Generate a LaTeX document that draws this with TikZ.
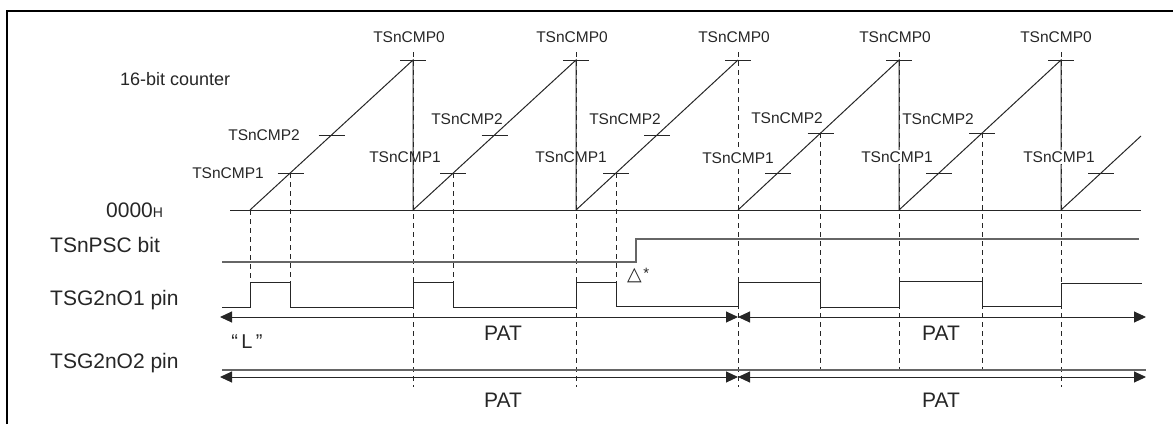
\documentclass[tikz,border=0pt]{standalone}
\usepackage{fontspec}
\setmainfont{Liberation Sans}
\newfontfamily\djv{DejaVu Sans}
\usetikzlibrary{arrows.meta}
\begin{document}
\begin{tikzpicture}[x=1pt,y=-1pt,
  sig/.style={line width=1pt, black!85},
  grey/.style={line width=1.3pt, black!60},
  dsh/.style={line width=0.9pt, black!85, dash pattern=on 5pt off 4pt},
  tck/.style={line width=1pt, black!85},
  cmp/.style={font=\fontsize{15.5}{17}\selectfont, inner sep=1pt, text=black!85},
  cmpw/.style={cmp, fill=white, inner sep=2pt},
  row/.style={font=\fontsize{21}{24}\selectfont, anchor=west, inner sep=0pt, text=black!85},
  patlbl/.style={font=\fontsize{21}{24}\selectfont, inner sep=0pt, text=black!85},
  pat/.style={line width=1pt, black!85, {Triangle[length=12pt,width=11pt]}-{Triangle[length=12pt,width=11pt]}},
]
\useasboundingbox (0,0) rectangle (1173,424);
% frame
\draw[line width=2pt] (7,424) -- (7,11) -- (1173,11);

% key coordinates
\coordinate (s0b) at (250,210);
\coordinate (s1t) at (413,60);  \coordinate (s1b) at (413,210);
\coordinate (s2t) at (576,60);  \coordinate (s2b) at (576,210);
\coordinate (s3t) at (738,60);  \coordinate (s3b) at (738,210);
\coordinate (s4t) at (899,60);  \coordinate (s4b) at (899,210);
\coordinate (s5t) at (1061,60); \coordinate (s5b) at (1061,210);
\coordinate (rend) at (1141,136);

% baseline
\coordinate (bl0) at (230,210); \coordinate (bl1) at (1141,210);
\draw[sig] (bl0) -- (bl1);

% dashed verticals (ramp starts)
\draw[dsh] (250,210) -- (250,282);
\draw[dsh] (413,52) -- (413,387);
\draw[dsh] (576,52) -- (576,387);
\draw[dsh] (738,52) -- (738,387);
\draw[dsh] (899,52) -- (899,370);
\draw[dsh] (1061,52) -- (1061,387);
% dashed verticals from compare points
\draw[dsh] (290.5,173) -- (290.5,282);
\draw[dsh] (453,173) -- (453,282);
\draw[dsh] (616,173) -- (616,282);
\draw[dsh] (820.5,133) -- (820.5,370);
\draw[dsh] (982,133) -- (982,370);

% ramps
\draw[sig] (s0b) -- (s1t) -- (s1b) -- (s2t) -- (s2b) -- (s3t);
\draw[sig] (s3b) -- (s4t) -- (s4b) -- (s5t) -- (s5b) -- (rend);

% CMP0 ticks
\foreach \x in {413,576,738,899,1061} \draw[tck] (\x-13,60) -- (\x+13,60);
% CMP2 ticks
\foreach \x/\y in {331.5/135,494.5/135,657/135,820.5/133,982/133} \draw[tck] (\x-13,\y) -- (\x+13,\y);
% CMP1 ticks
\foreach \x in {290.5,453,616,778,939,1101} \draw[tck] (\x-13,173) -- (\x+13,173);

% CMP labels
\node[cmp] (c0a) at (409,37) {TSnCMP0};
\node[cmp] (c0b) at (572,37) {TSnCMP0};
\node[cmp] (c0c) at (734,37) {TSnCMP0};
\node[cmp] (c0d) at (895,37) {TSnCMP0};
\node[cmp] (c0e) at (1056,37) {TSnCMP0};

\node[cmp, anchor=east] (c2a) at (301,135) {TSnCMP2};
\node[cmp] (c2b) at (467,119) {TSnCMP2};
\node[cmp] (c2c) at (625,119) {TSnCMP2};
\node[cmp] (c2d) at (787,118) {TSnCMP2};
\node[cmp] (c2e) at (938,119) {TSnCMP2};

\node[cmp] (c1a) at (228,173) {TSnCMP1};
\node[cmp] (c1b) at (405,157) {TSnCMP1};
\node[cmp] (c1c) at (571,157) {TSnCMP1};
\node[cmpw] (c1d) at (738,158) {TSnCMP1};
\node[cmpw] (c1e) at (897,157) {TSnCMP1};
\node[cmpw] (c1f) at (1059,157) {TSnCMP1};

% row labels
\node[row, font=\fontsize{18}{21}\selectfont] (rcnt) at (120,79) {16-bit counter};
\node[row] (rzero) at (106,210) {0000{\fontsize{14}{16}\selectfont H}};
\node[row] (rpsc) at (50,245) {TSnPSC bit};
\node[row] (ro1) at (50,300) {TSG2nO1 pin};
\node[row] (ro2) at (50,363) {TSG2nO2 pin};

% TSnPSC bit
\draw[grey] (222,262) -- (636,262) -- (636,239) -- (1139,239);
\node[anchor=west, inner sep=0pt, text=black!85] (tri) at (627,276)
  {{\djv\fontsize{19}{21}\selectfont △}\,\raisebox{2pt}{\fontsize{15}{16}\selectfont *}};

% TSG2nO1 waveform
\draw[sig] (222,307) -- (250,307) -- (250,282) -- (290.5,282) -- (290.5,307)
  -- (413,307) -- (413,282) -- (453,282) -- (453,307)
  -- (576,307) -- (576,282) -- (616,282) -- (616,306)
  -- (738,306) -- (738,282) -- (820.5,282) -- (820.5,307)
  -- (899,307) -- (899,281) -- (982,281) -- (982,306)
  -- (1061,306) -- (1061,283) -- (1142,283);

% PAT arrows (O1)
\coordinate (pa0) at (220,317); \coordinate (pa1) at (738,317); \coordinate (pa2) at (1146,317);
\draw[pat] (pa0) -- (pa1);
\draw[pat] (pa1) -- (pa2);
\node[patlbl] (pat1) at (503,333) {PAT};
\node[patlbl] (pat2) at (941,333) {PAT};
\node[inner sep=0pt, text=black!85, font=\fontsize{20}{22}\selectfont] (Llbl) at (247,342) {“\,L\,”};

% TSG2nO2
\draw[grey] (222,370) -- (1146,370);
\coordinate (pb0) at (220,377); \coordinate (pb1) at (738,377); \coordinate (pb2) at (1146,377);
\draw[pat] (pb0) -- (pb1);
\draw[pat] (pb1) -- (pb2);
\node[patlbl] (pat3) at (503,400) {PAT};
\node[patlbl] (pat4) at (941,400) {PAT};
\end{tikzpicture}
\end{document}
